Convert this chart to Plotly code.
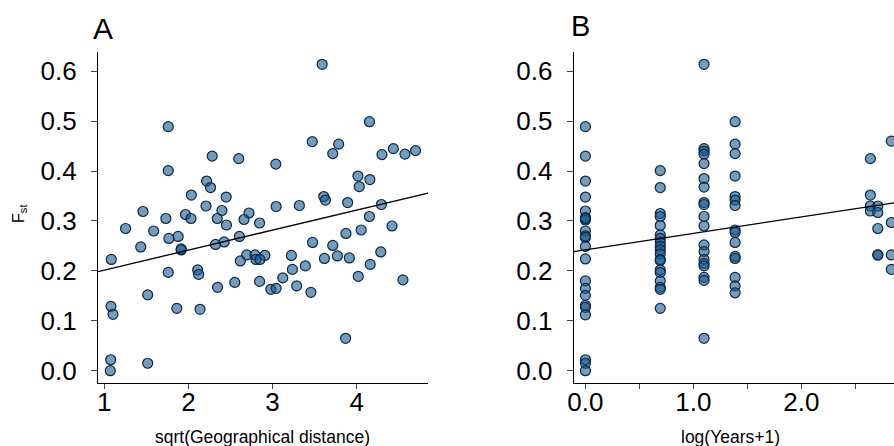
import numpy as np
import plotly.graph_objects as go

# panel A: sqrt(geographical distance) vs Fst
geo_dist = [1.760, 2.283, 2.598, 1.760, 2.216, 2.263, 2.035, 2.449, 2.209, 2.398,
            1.460, 2.720, 1.732, 1.965, 2.031, 2.343, 2.661, 2.452, 2.846, 1.253,
            1.587, 1.768, 1.878, 2.606, 1.433, 1.914, 1.914, 2.322, 2.425, 3.590,
            4.152, 3.472, 3.786, 3.716, 3.039, 4.301, 4.436, 4.574, 4.700, 4.015,
            4.157, 4.031, 3.609, 3.629, 3.043, 3.319, 3.893, 4.294, 4.152, 4.420,
            3.873, 4.054, 3.476, 3.716, 2.693, 2.791, 2.909, 2.803, 2.850, 3.224,
            3.236, 3.390, 3.617, 3.771, 3.913, 4.287, 4.161, 4.019, 4.550, 2.846,
            2.980, 3.043, 3.122, 3.287, 3.456, 3.869, 1.083, 1.760, 2.110, 2.122,
            2.346, 2.551, 1.516, 1.079, 1.103, 1.862, 2.138, 1.076, 1.071, 1.516,
            2.617]
fst_geo = [0.489, 0.430, 0.425, 0.401, 0.380, 0.367, 0.352, 0.348, 0.330, 0.321,
           0.319, 0.316, 0.305, 0.313, 0.305, 0.305, 0.303, 0.292, 0.296, 0.285,
           0.280, 0.265, 0.269, 0.269, 0.248, 0.244, 0.242, 0.253, 0.258, 0.614,
           0.499, 0.459, 0.454, 0.435, 0.414, 0.433, 0.445, 0.434, 0.441, 0.390,
           0.383, 0.369, 0.349, 0.342, 0.329, 0.331, 0.337, 0.333, 0.309, 0.290,
           0.275, 0.282, 0.257, 0.251, 0.232, 0.232, 0.231, 0.223, 0.223, 0.231,
           0.203, 0.210, 0.225, 0.230, 0.226, 0.238, 0.213, 0.189, 0.182, 0.179,
           0.163, 0.165, 0.186, 0.170, 0.157, 0.065, 0.223, 0.197, 0.202, 0.193,
           0.167, 0.177, 0.152, 0.129, 0.113, 0.125, 0.123, 0.022, 0.000, 0.015,
           0.220]

# panel B: Fst grouped by years
fst_y0 = [0.489, 0.430, 0.380, 0.348, 0.320, 0.307, 0.302, 0.305, 0.280, 0.270,
          0.267, 0.249, 0.224, 0.180, 0.165, 0.151, 0.131, 0.127, 0.112, 0.022,
          0.015, 0.000]
fst_y1 = [0.401, 0.367, 0.315, 0.309, 0.291, 0.272, 0.265, 0.257, 0.249, 0.242,
          0.234, 0.223, 0.221, 0.202, 0.197, 0.180, 0.167, 0.163, 0.125]
fst_y2 = [0.614, 0.445, 0.440, 0.434, 0.415, 0.385, 0.368, 0.337, 0.333, 0.309,
          0.290, 0.252, 0.239, 0.223, 0.215, 0.210, 0.187, 0.181, 0.065]
fst_y3 = [0.499, 0.454, 0.435, 0.390, 0.349, 0.342, 0.331, 0.282, 0.277, 0.257,
          0.229, 0.225, 0.187, 0.170, 0.156]
fst_y13 = [0.425, 0.352, 0.330, 0.320]
fst_y14 = [0.330, 0.317, 0.285, 0.232, 0.232]
fst_y16 = [0.460, 0.297, 0.232, 0.203]
years = [0, 1, 2, 3, 13, 14, 16]

# fitted lines
fit_geo = (0.1615, 0.0401)
fit_years = (0.2422, 0.0330)

y_ticks = [0.0, 0.1, 0.2, 0.3, 0.4, 0.5, 0.6]
geo_ticks = [1, 2, 3, 4]
year_ticks = [0, 1, 2, 3]
year_ticktext = ["0.0", "1.0", "2.0", "3.0"]
year_minor = [0.5, 1.5, 2.5]

groups = [fst_y0, fst_y1, fst_y2, fst_y3, fst_y13, fst_y14, fst_y16]
log_years = np.concatenate([[np.log(yr + 1)] * len(g) for yr, g in zip(years, groups)])
fst_years = np.concatenate(groups)

W, H = 894, 446
FONT = "Liberation Sans, Arial, sans-serif"
marker = dict(size=10, color="rgba(20,90,150,0.6)",
              line=dict(color="#10283f", width=1.2))

xr_a = [0.926, 4.85]
xr_b = [-0.107, 2.858]
yr = [-0.0246, 0.6386]

fig = go.Figure()
fig.add_trace(go.Scatter(x=geo_dist, y=fst_geo, mode="markers", marker=marker,
                         xaxis="x", yaxis="y", cliponaxis=False))
fig.add_trace(go.Scatter(x=xr_a, y=[fit_geo[0] + fit_geo[1] * v for v in xr_a],
                         mode="lines", line=dict(color="black", width=1.3),
                         xaxis="x", yaxis="y"))
fig.add_trace(go.Scatter(x=log_years, y=fst_years, mode="markers", marker=marker,
                         xaxis="x2", yaxis="y2", cliponaxis=False))
fig.add_trace(go.Scatter(x=xr_b, y=[fit_years[0] + fit_years[1] * v for v in xr_b],
                         mode="lines", line=dict(color="black", width=1.3),
                         xaxis="x2", yaxis="y2"))

axis_common = dict(showgrid=False, zeroline=False, showline=True, linecolor="black",
                   linewidth=1.3, ticks="outside", tickcolor="#444", tickwidth=1,
                   tickfont=dict(family=FONT, size=26, color="black"))

fig.update_layout(
    width=W, height=H,
    margin=dict(l=0, r=0, t=51.7, b=62.7),
    paper_bgcolor="white", plot_bgcolor="white",
    showlegend=False,
    xaxis=dict(domain=[92.7 / W, 425 / W], range=xr_a, tickvals=geo_ticks,
               ticklen=5, anchor="y", ticklabelstandoff=-9, **axis_common),
    yaxis=dict(domain=[0, 1], range=yr, tickvals=y_ticks, tickformat=".1f",
               ticklen=6, anchor="x", ticklabelstandoff=9, **axis_common),
    xaxis2=dict(domain=[571.7 / W, 1.0], range=xr_b, tickvals=year_ticks,
                ticktext=year_ticktext, ticklen=5, anchor="y2", ticklabelstandoff=-9,
                minor=dict(tickvals=year_minor, ticklen=5, ticks="outside",
                           tickcolor="#444", tickwidth=1),
                **axis_common),
    yaxis2=dict(domain=[0, 1], range=yr, tickvals=y_ticks, tickformat=".1f",
                ticklen=6, anchor="x2", ticklabelstandoff=9, **axis_common),
)

ph = 383.3 - 51.7


def py(px):
    return (383.3 - px) / ph


annots = [
    dict(text="A", x=86 / W, y=py(28), xanchor="left", font=dict(size=30)),
    dict(text="B", x=567 / W, y=py(26), xanchor="left", font=dict(size=29)),
    dict(text="sqrt(Geographical distance)", x=258.5 / W, y=py(437), font=dict(size=17.5)),
    dict(text="log(Years+1)", x=729.5 / W, y=py(437), font=dict(size=17.5)),
    dict(text="F<sub>st</sub>", x=13 / W, y=py(213), textangle=-90, font=dict(size=16)),
]
for a in annots:
    a.setdefault("xanchor", "center")
    a["font"].update(family=FONT, color="black")
    fig.add_annotation(xref="paper", yref="paper", yanchor="middle",
                       showarrow=False, **a)

fig.write_html("out.html", config={"displayModeBar": False},
               post_script="document.body.style.margin='0';")
